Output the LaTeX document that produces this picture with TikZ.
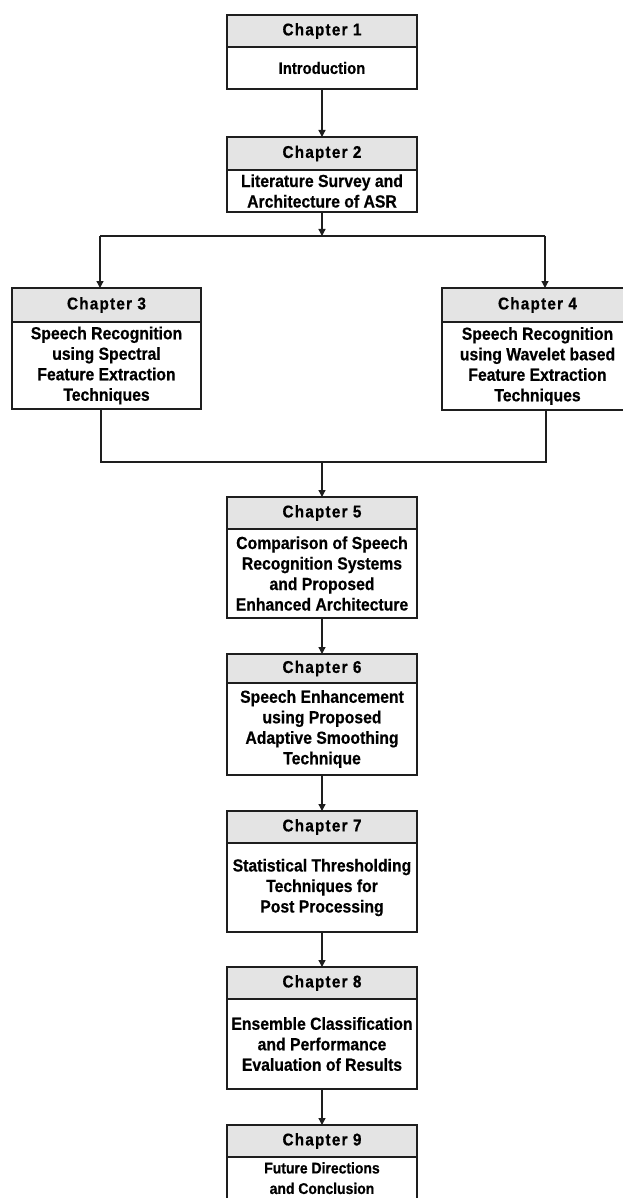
\documentclass[tikz,border=0pt]{standalone}
\usepackage{fontspec}
\setmainfont[FakeStretch=0.9,FakeBold=0.6]{Liberation Sans}
\newfontfamily\hdrfont[LetterSpace=7,FakeStretch=0.9,FakeBold=0.6]{Liberation Sans}
\usetikzlibrary{arrows.meta}
\definecolor{linec}{HTML}{1E1E1E}
\definecolor{hdrfill}{HTML}{E4E4E4}
\begin{document}
\begin{tikzpicture}[x=1pt,y=1pt,
  box/.style={draw=linec, line width=1.3pt, minimum width=190pt, inner sep=0pt,
              outer sep=0pt, anchor=north, text=black},
  hdr/.style={box, fill=hdrfill, font=\hdrfont\bfseries\fontsize{17}{19}\selectfont},
  body/.style={box, fill=white, align=center, font=\bfseries\fontsize{17.5}{20.5}\selectfont},
  intro/.style={font=\bfseries\fontsize{16.5}{20.5}\selectfont},
  small/.style={font=\bfseries\fontsize{15.5}{20.5}\selectfont},
  conn/.style={draw=linec, line width=1.3pt},
  arr/.style={conn, -{Triangle[width=7pt,length=7pt]}}]
\clip (0,0) rectangle (623,-1198);
\fill[white] (0,0) rectangle (623,-1198);

% Chapter 1
\node[hdr, minimum height=32pt] (h1) at (322,-15) {Chapter 1};
\node[body, intro, minimum height=42pt] (b1) at (h1.south) {Introduction};
% Chapter 2
\node[hdr, minimum height=33pt] (h2) at (322,-137) {Chapter 2};
\node[body, minimum height=42pt] (b2) at (h2.south) {Literature Survey and\\Architecture of ASR};
% Chapter 3
\node[hdr, minimum height=34pt, minimum width=189pt] (h3) at (106.5,-288) {Chapter 3};
\node[body, minimum height=87pt, minimum width=189pt] (b3) at (h3.south) {Speech Recognition\\using Spectral\\Feature Extraction\\Techniques};
% Chapter 4
\node[hdr, minimum height=34pt, minimum width=191pt] (h4) at (537.5,-288) {Chapter 4};
\node[body, minimum height=88pt, minimum width=191pt] (b4) at (h4.south) {Speech Recognition\\using Wavelet based\\Feature Extraction\\Techniques};
% Chapter 5
\node[hdr, minimum height=32pt] (h5) at (322,-497) {Chapter 5};
\node[body, minimum height=89pt] (b5) at (h5.south) {Comparison of Speech\\Recognition Systems\\and Proposed\\Enhanced Architecture};
% Chapter 6
\node[hdr, minimum height=29pt] (h6) at (322,-654) {Chapter 6};
\node[body, minimum height=92pt] (b6) at (h6.south) {Speech Enhancement\\using Proposed\\Adaptive Smoothing\\Technique};
% Chapter 7
\node[hdr, minimum height=32pt] (h7) at (322,-811) {Chapter 7};
\node[body, minimum height=89pt] (b7) at (h7.south) {Statistical Thresholding\\Techniques for\\Post Processing};
% Chapter 8
\node[hdr, minimum height=32pt] (h8) at (322,-967) {Chapter 8};
\node[body, minimum height=90pt] (b8) at (h8.south) {Ensemble Classification\\and Performance\\Evaluation of Results};
% Chapter 9
\node[hdr, minimum height=32pt] (h9) at (322,-1125) {Chapter 9};
\node[body, small, minimum height=88pt, text depth=0pt] (b9) at (h9.south) {};
\node[small, align=center, anchor=north, inner sep=0pt] (t9) at (322,-1162) {Future Directions\\and Conclusion};

% Connectors
\coordinate (split) at (322,-236);
\coordinate (sl) at (100,-236);
\coordinate (sr) at (545,-236);
\coordinate (jl) at (101,-462);
\coordinate (jr) at (546,-462);
\coordinate (jm) at (322,-462);

\draw[arr] (b1.south) -- (h2.north);
\draw[arr] (b2.south) -- (split);
\draw[conn] (sl) -- (sr);
\draw[arr] (sl) -- (sl |- h3.north);
\draw[arr] (sr) -- (sr |- h4.north);
\draw[conn] (jl |- b3.south) -- (jl) -- (jr) -- (jr |- b4.south);
\draw[arr] (jm) -- (h5.north);
\draw[arr] (b5.south) -- (h6.north);
\draw[arr] (b6.south) -- (h7.north);
\draw[arr] (b7.south) -- (h8.north);
\draw[arr] (b8.south) -- (h9.north);
\end{tikzpicture}
\end{document}
